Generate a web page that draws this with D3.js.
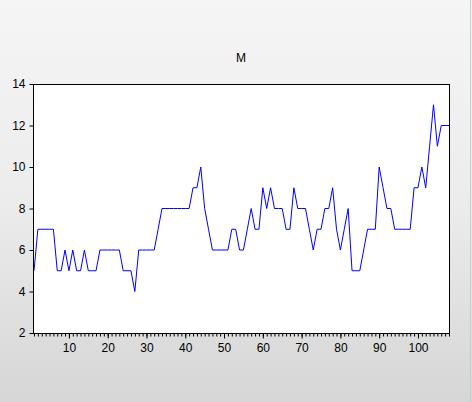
<!DOCTYPE html>
<html>
<head>
<meta charset="utf-8">
<script src="https://cdn.jsdelivr.net/npm/d3@7"></script>
<style>
	html, body { margin: 0; padding: 0; }
	body { width: 472px; height: 402px; overflow: hidden; }
	svg { display: block; font-family: "Liberation Sans", Arial, sans-serif; }
</style>
</head>
<body>
<svg id="chart" width="472" height="402"></svg>
<script>
// series M, observations 1..108
var title = "M";
var obs = d3.range(1, 109);
var values = [
	5, 7, 7, 7, 7, 7, 5, 5, 6, 5,
	6, 5, 5, 6, 5, 5, 5, 6, 6, 6,
	6, 6, 6, 5, 5, 5, 4, 6, 6, 6,
	6, 6, 7, 8, 8, 8, 8, 8, 8, 8,
	8, 9, 9, 10, 8, 7, 6, 6, 6, 6,
	6, 7, 7, 6, 6, 7, 8, 7, 7, 9,
	8, 9, 8, 8, 8, 7, 7, 9, 8, 8,
	8, 7, 6, 7, 7, 8, 8, 9, 7, 6,
	7, 8, 5, 5, 5, 6, 7, 7, 7, 10,
	9, 8, 8, 7, 7, 7, 7, 7, 9, 9,
	10, 9, 11, 13, 11, 12, 12, 12
];
var yTicks = [2, 4, 6, 8, 10, 12, 14];
var xTicks = [10, 20, 30, 40, 50, 60, 70, 80, 90, 100];

var svg = d3.select("#chart");
var W = 472, H = 402;

// background gradient like the eviews window
var defs = svg.append("defs");
var grad = defs.append("linearGradient")
	.attr("id", "bg").attr("x1", 0).attr("y1", 0).attr("x2", 0).attr("y2", 1);
grad.append("stop").attr("offset", "0%").attr("stop-color", "#f5f5f5");
grad.append("stop").attr("offset", "50%").attr("stop-color", "#ececec");
grad.append("stop").attr("offset", "100%").attr("stop-color", "#d6d6d6");
svg.append("rect").attr("width", W).attr("height", H).attr("fill", "url(#bg)");
// window edge on the right
svg.append("line")
	.attr("x1", 470.5).attr("x2", 470.5).attr("y1", 0).attr("y2", H)
	.attr("stroke", "#c9ccd0");

var margin = {top: 84, right: 23, bottom: 69, left: 33};
var width = W - margin.left - margin.right,
	height = H - margin.top - margin.bottom;

var g = svg.append("g")
	.attr("transform", "translate(" + margin.left + "," + margin.top + ")");

var x = d3.scaleLinear().domain([1, 108]).range([1, width]);
var y = d3.scaleLinear().domain([2, 14]).range([height, 0]);

g.append("rect")
	.attr("x", 0.5).attr("y", 0.5)
	.attr("width", width).attr("height", height)
	.attr("fill", "#fff");

// minor ticks, one per observation
g.append("g")
	.attr("transform", "translate(0," + (height + 0.5) + ")")
	.call(d3.axisBottom(x).tickValues(obs).tickSize(3).tickFormat(""))
	.call(function (a) {
		a.select(".domain").remove();
		a.selectAll("line").attr("stroke", "#000");
	});

// major ticks
g.append("g")
	.attr("transform", "translate(0," + (height + 0.5) + ")")
	.call(d3.axisBottom(x).tickValues(xTicks).tickSize(5).tickPadding(5))
	.call(function (a) {
		a.select(".domain").remove();
		a.selectAll("line").attr("stroke", "#000");
		a.selectAll("text").attr("fill", "#000").style("font-size", "12px");
	});

g.append("g")
	.attr("transform", "translate(0.5,0)")
	.call(d3.axisLeft(y).tickValues(yTicks).tickSize(4).tickPadding(4))
	.call(function (a) {
		a.select(".domain").remove();
		a.selectAll("line").attr("stroke", "#000");
		a.selectAll("text").attr("fill", "#000").style("font-size", "12px");
	});

var line = d3.line()
	.x(function (d, i) { return x(obs[i]); })
	.y(function (d) { return y(d); });

g.append("path")
	.datum(values)
	.attr("fill", "none")
	.attr("stroke", "#0000ff")
	.attr("stroke-width", 1)
	.attr("d", line);

// frame
g.append("rect")
	.attr("x", 0.5).attr("y", 0.5)
	.attr("width", width).attr("height", height)
	.attr("fill", "none")
	.attr("stroke", "#000");

svg.append("text")
	.attr("x", 241)
	.attr("y", 62)
	.attr("text-anchor", "middle")
	.attr("fill", "#000")
	.style("font-size", "12px")
	.text(title);
</script>
</body>
</html>
